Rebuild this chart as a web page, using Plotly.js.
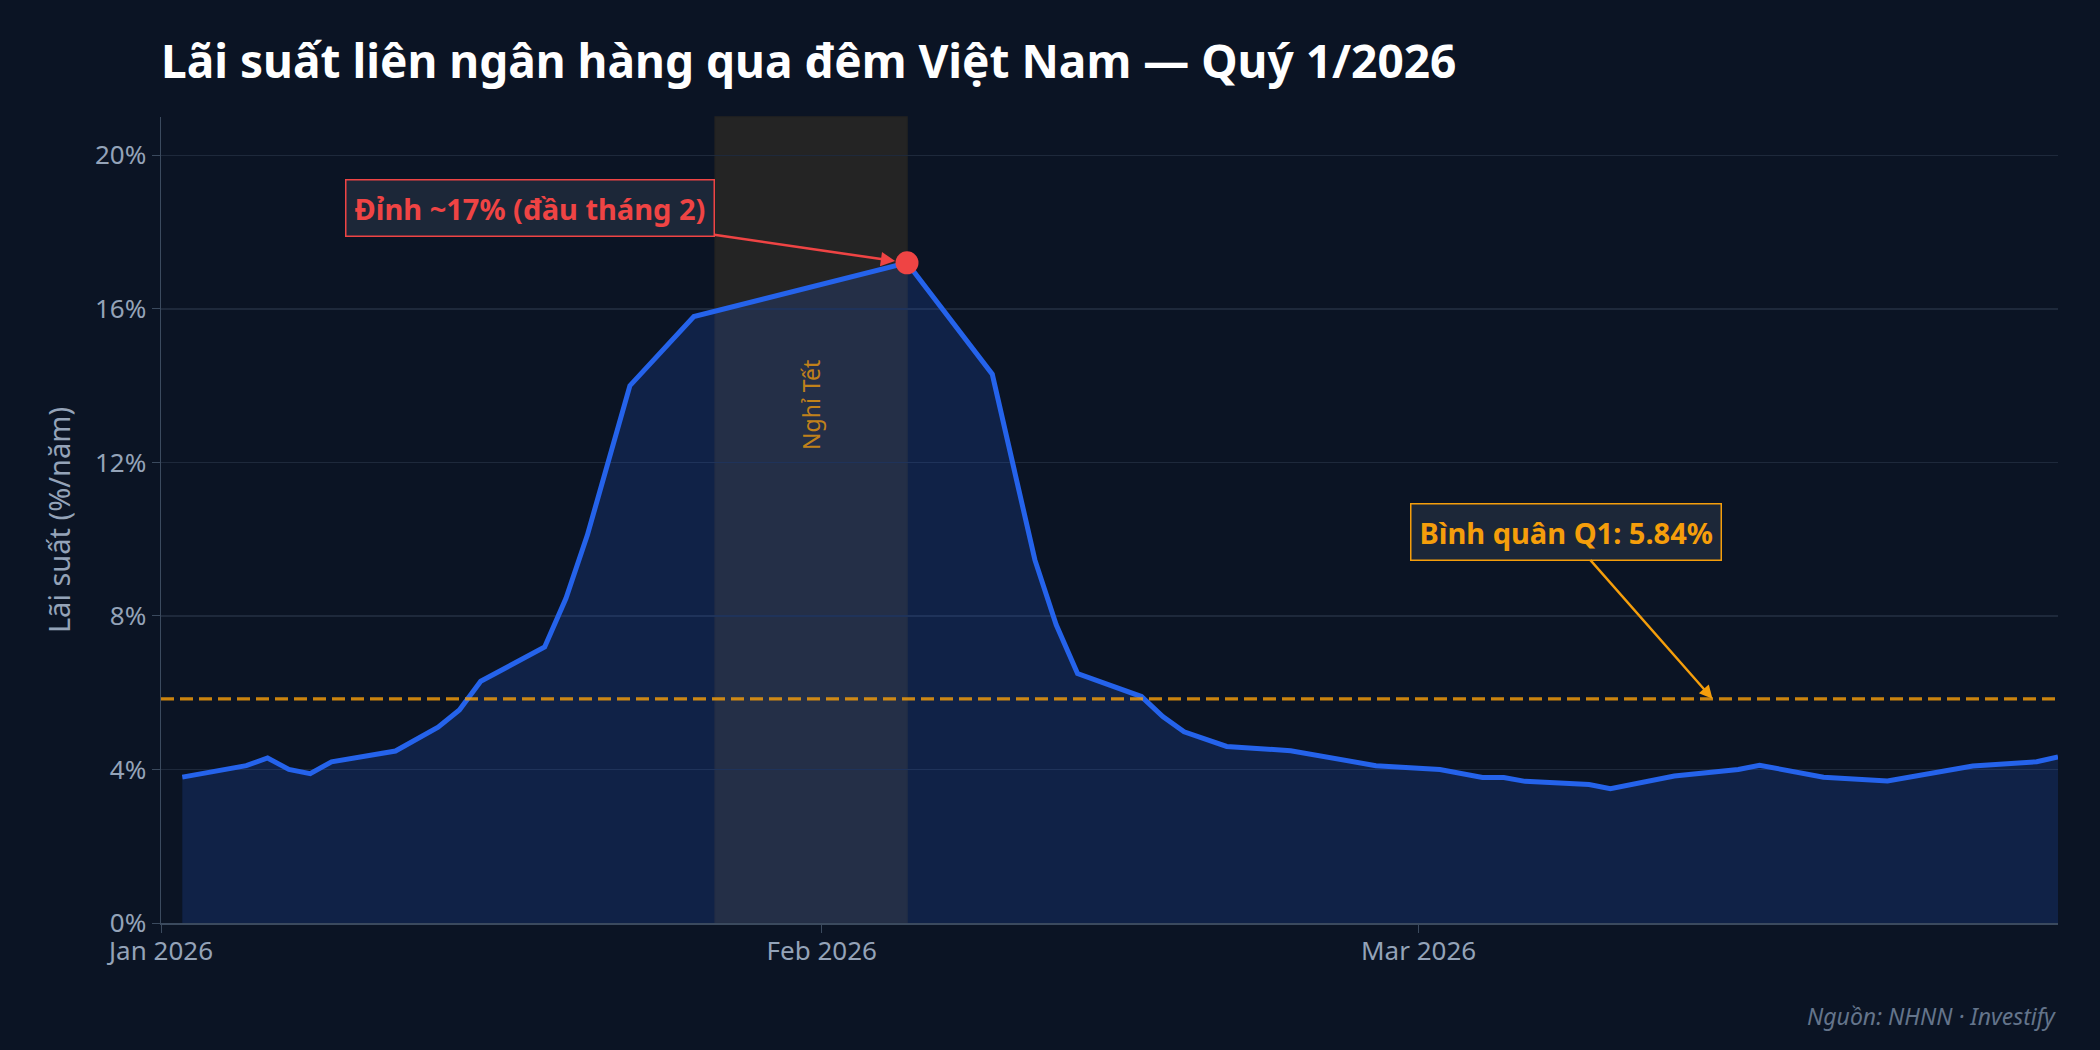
<!DOCTYPE html>
<html>
<head>
<meta charset="utf-8">
<script src="https://cdn.plot.ly/plotly-3.0.1.min.js"></script>
<style>
  html, body { margin: 0; padding: 0; background: #0b1424; }
  #chart { width: 2100px; height: 1050px; }
</style>
</head>
<body>
<div id="chart"></div>
<script>
// Lãi suất qua đêm (%/năm), các ngày giao dịch Q1/2026
const dates = [
  '2026-01-02', '2026-01-05', '2026-01-06', '2026-01-07', '2026-01-08', '2026-01-09',
  '2026-01-12', '2026-01-14', '2026-01-15', '2026-01-16', '2026-01-19', '2026-01-20',
  '2026-01-21', '2026-01-23', '2026-01-26', '2026-02-05', '2026-02-09', '2026-02-11',
  '2026-02-12', '2026-02-13', '2026-02-16', '2026-02-17', '2026-02-18', '2026-02-20',
  '2026-02-23', '2026-02-27', '2026-03-02', '2026-03-04', '2026-03-05', '2026-03-06',
  '2026-03-09', '2026-03-10', '2026-03-13', '2026-03-16', '2026-03-17', '2026-03-20',
  '2026-03-23', '2026-03-27', '2026-03-30', '2026-03-31'
];
const rates = [
  3.80, 4.10, 4.30, 4.00, 3.89, 4.20,
  4.48, 5.10, 5.55, 6.30, 7.19, 8.46,
  10.1, 14.0, 15.8, 17.2, 14.3, 9.46,
  7.77, 6.50, 5.90, 5.38, 4.98, 4.60,
  4.49, 4.10, 4.00, 3.79, 3.79, 3.69,
  3.61, 3.50, 3.83, 4.00, 4.11, 3.80,
  3.70, 4.09, 4.20, 4.33
];
const avgQ1 = 5.84;
const tetStart = '2026-01-27';
const tetEnd = '2026-02-05';
const yTicks = [0, 4, 8, 12, 16, 20];

const peakIdx = rates.indexOf(Math.max(...rates));

const font = '"Noto Sans", "Open Sans", sans-serif';
const orange = '#f59e0b';
const red = '#ef4444';

Plotly.newPlot('chart', [
  {
    x: dates,
    y: rates,
    type: 'scatter',
    mode: 'lines',
    line: { color: '#2563eb', width: 5 },
    fill: 'tozeroy',
    fillcolor: 'rgba(37,99,235,0.18)',
    hoverinfo: 'skip'
  },
  {
    x: [dates[peakIdx]],
    y: [rates[peakIdx]],
    type: 'scatter',
    mode: 'markers',
    marker: { color: red, size: 23 },
    hoverinfo: 'skip'
  }
], {
  width: 2100,
  height: 1050,
  paper_bgcolor: '#0b1424',
  plot_bgcolor: '#0b1424',
  showlegend: false,
  margin: { l: 161, r: 42, t: 117, b: 127 },
  font: { family: font, color: '#94a3b8' },
  title: {
    text: '<b>Lãi suất liên ngân hàng qua đêm Việt Nam — Quý 1/2026</b>',
    font: { family: font, size: 46, color: '#ffffff' },
    x: 0, xref: 'paper', xanchor: 'left',
    y: 0.941, yref: 'container', yanchor: 'middle'
  },
  xaxis: {
    type: 'date',
    range: ['2026-01-01', '2026-03-31'],
    tick0: '2026-01-01',
    dtick: 'M1',
    tickformat: '%b %Y',
    ticks: 'outside',
    ticklen: 8,
    tickcolor: '#3b4a5e',
    ticklabelstandoff: -4,
    showgrid: false,
    showline: true,
    linecolor: '#3b4a5e',
    linewidth: 1.5,
    zeroline: false,
    tickfont: { size: 26, color: '#94a3b8' }
  },
  yaxis: {
    range: [0, 21],
    tickvals: yTicks,
    ticktext: yTicks.map(v => v + '%'),
    ticks: 'outside',
    ticklen: 8,
    tickcolor: '#3b4a5e',
    showline: true,
    linecolor: '#3b4a5e',
    linewidth: 1.5,
    gridcolor: '#1e293b',
    gridwidth: 1.5,
    zeroline: false,
    tickfont: { size: 26, color: '#94a3b8' },
    title: { text: 'Lãi suất (%/năm)', font: { size: 29, color: '#94a3b8' }, standoff: 16 }
  },
  shapes: [
    {
      type: 'rect', layer: 'below',
      xref: 'x', yref: 'paper',
      x0: tetStart, x1: tetEnd, y0: 0, y1: 1,
      fillcolor: 'rgb(255,180,40)', opacity: 0.1,
      line: { color: orange, width: 1.5 }
    },
    {
      type: 'line', layer: 'above',
      xref: 'paper', yref: 'y',
      x0: 0, x1: 1, y0: avgQ1, y1: avgQ1,
      line: { color: 'rgba(245,158,11,0.82)', width: 3.2, dash: '13px,6px' }
    }
  ],
  annotations: [
    {
      x: dates[peakIdx], y: rates[peakIdx],
      xref: 'x', yref: 'y',
      ax: -377, ay: -55,
      text: '<b>Đỉnh ~17% (đầu tháng 2)</b>',
      font: { family: font, size: 29, color: red },
      bgcolor: 'rgba(30,41,59,0.92)',
      bordercolor: red, borderwidth: 1.5, borderpad: 8,
      showarrow: true, arrowhead: 2, arrowsize: 1.1, arrowwidth: 2.6,
      arrowcolor: red, standoff: 12
    },
    {
      x: '2026-03-14T19:00', y: avgQ1,
      xref: 'x', yref: 'y',
      ax: -147, ay: -167,
      text: '<b>Bình quân Q1: 5.84%</b>',
      font: { family: font, size: 29, color: orange },
      bgcolor: 'rgba(30,41,59,0.92)',
      bordercolor: orange, borderwidth: 1.5, borderpad: 8,
      showarrow: true, arrowhead: 2, arrowsize: 1.1, arrowwidth: 2.4,
      arrowcolor: orange, standoff: 0
    },
    {
      x: '2026-01-31T12:00', y: 13.5,
      xref: 'x', yref: 'y',
      text: 'Nghỉ Tết',
      textangle: -90,
      showarrow: false,
      font: { family: font, size: 23, color: 'rgba(245,158,11,0.75)' }
    },
    {
      x: 1, y: -0.115,
      xref: 'paper', yref: 'paper',
      xanchor: 'right', yanchor: 'middle',
      text: '<i>Nguồn: NHNN · Investify</i>',
      showarrow: false,
      font: { family: font, size: 23, color: '#64748b' }
    }
  ]
}, { displayModeBar: false, staticPlot: true });
</script>
</body>
</html>
